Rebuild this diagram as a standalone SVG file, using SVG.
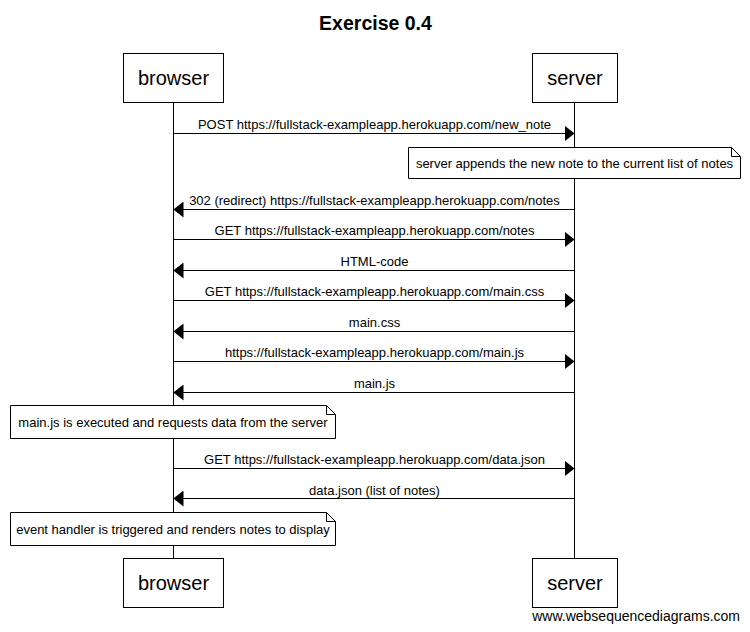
<svg xmlns="http://www.w3.org/2000/svg" width="750" height="632" viewBox="0 0 750 632">
<defs>
<style>
text{font-family:"Liberation Sans",Arial,sans-serif;fill:#000}
.title{font-size:19.5px;font-weight:bold;text-anchor:middle}
.actor rect{fill:#fff;stroke:#000;stroke-width:1}
.actor text{font-size:20px;text-anchor:middle}
.life{stroke:#000;stroke-width:1}
.msg line{stroke:#000;stroke-width:1}
.lbl{font-size:13px;text-anchor:middle}
.note path{fill:#fff;stroke:#000;stroke-width:1}
.note text{font-size:13px;text-anchor:middle}
.wm{font-size:14px;text-anchor:end}
</style>
<marker id="ah" viewBox="0 0 10 16" refX="10" refY="8" markerWidth="10" markerHeight="16" markerUnits="userSpaceOnUse" orient="auto">
<path d="M0,0 L10,8 L0,16 Z" fill="#000"/>
</marker>
</defs>
<rect width="750" height="632" fill="#fff"/>
<text class="title" x="375.5" y="30">Exercise 0.4</text>
<g id="lifelines">
<line class="life" x1="173.5" y1="103" x2="173.5" y2="558"/>
<line class="life" x1="574.5" y1="103" x2="574.5" y2="558"/>
</g>
<g id="browser-top" class="actor"><rect x="123.5" y="53.5" width="100" height="49"/><text x="173.5" y="85">browser</text></g>
<g id="server-top" class="actor"><rect x="532.5" y="53.5" width="85" height="49"/><text x="575" y="85">server</text></g>
<g id="browser-bottom" class="actor"><rect x="123.5" y="558.5" width="100" height="49"/><text x="173.5" y="590">browser</text></g>
<g id="server-bottom" class="actor"><rect x="532.5" y="558.5" width="85" height="49"/><text x="575" y="590">server</text></g>
<g id="connectors" class="msg">
<line x1="173.5" y1="133.5" x2="574.5" y2="133.5" marker-end="url(#ah)"/>
<text class="lbl" x="374.5" y="128.5">POST https://fullstack-exampleapp.herokuapp.com/new_note</text>
<line x1="574.5" y1="209.5" x2="173.5" y2="209.5" marker-end="url(#ah)"/>
<text class="lbl" x="374.5" y="204.5">302 (redirect) https://fullstack-exampleapp.herokuapp.com/notes</text>
<line x1="173.5" y1="239.5" x2="574.5" y2="239.5" marker-end="url(#ah)"/>
<text class="lbl" x="374.5" y="235">GET https://fullstack-exampleapp.herokuapp.com/notes</text>
<line x1="574.5" y1="270.5" x2="173.5" y2="270.5" marker-end="url(#ah)"/>
<text class="lbl" x="374.5" y="266">HTML-code</text>
<line x1="173.5" y1="300.5" x2="574.5" y2="300.5" marker-end="url(#ah)"/>
<text class="lbl" x="374.5" y="296">GET https://fullstack-exampleapp.herokuapp.com/main.css</text>
<line x1="574.5" y1="331.5" x2="173.5" y2="331.5" marker-end="url(#ah)"/>
<text class="lbl" x="374.5" y="327">main.css</text>
<line x1="173.5" y1="361.5" x2="574.5" y2="361.5" marker-end="url(#ah)"/>
<text class="lbl" x="374.5" y="357">https://fullstack-exampleapp.herokuapp.com/main.js</text>
<line x1="574.5" y1="392.5" x2="173.5" y2="392.5" marker-end="url(#ah)"/>
<text class="lbl" x="374.5" y="388">main.js</text>
<line x1="173.5" y1="468.5" x2="574.5" y2="468.5" marker-end="url(#ah)"/>
<text class="lbl" x="374.5" y="464">GET https://fullstack-exampleapp.herokuapp.com/data.json</text>
<line x1="574.5" y1="498.5" x2="173.5" y2="498.5" marker-end="url(#ah)"/>
<text class="lbl" x="374.5" y="494.5">data.json (list of notes)</text>
</g>
<g id="note1" class="note"><path d="M408.5,147.5 H731.5 L740.5,156.5 V178.5 H408.5 Z M731.5,147.5 V156.5 H740.5"/><text x="574.5" y="167.5">server appends the new note to the current list of notes</text></g>
<g id="note2" class="note"><path d="M10.5,405.5 H326.5 L335.5,414.5 V438.5 H10.5 Z M326.5,405.5 V414.5 H335.5"/><text x="173" y="426.5">main.js is executed and requests data from the server</text></g>
<g id="note3" class="note"><path d="M10.5,512.5 H326.5 L335.5,521.5 V545.5 H10.5 Z M326.5,512.5 V521.5 H335.5"/><text x="173" y="533.5">event handler is triggered and renders notes to display</text></g>
<text class="wm" x="740" y="621">www.websequencediagrams.com</text>
</svg>
